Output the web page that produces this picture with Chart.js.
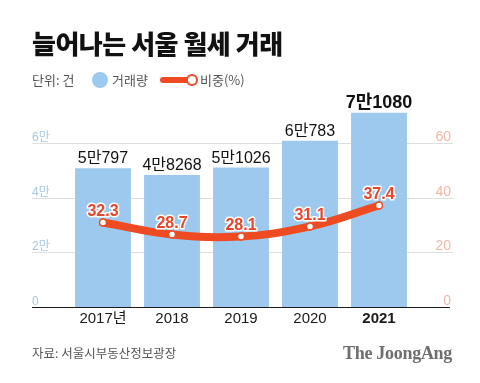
<!DOCTYPE html>
<html><head><meta charset="utf-8">
<script src="https://cdn.jsdelivr.net/npm/chart.js@4"></script>
<style>
html,body{margin:0;padding:0;background:#fff;}
#wrap{position:relative;width:480px;height:383px;overflow:hidden;font-family:"Noto Sans CJK KR","Noto Sans",sans-serif;}
canvas{position:absolute;left:0;top:0;}
.t{position:absolute;white-space:nowrap;}
#title{left:32px;top:28px;font-size:26px;line-height:30px;font-weight:900;color:#111;letter-spacing:-0.5px;}
.lg{top:72px;font-size:13px;line-height:16px;color:#555;}
#dot{position:absolute;left:92px;top:72px;width:16px;height:16px;border-radius:50%;background:#9DC9EE;}
#lline{position:absolute;left:160px;top:77px;width:30px;height:6px;border-radius:3px;background:#EE4B22;}
#lcirc{position:absolute;left:186px;top:74px;width:8px;height:8px;border-radius:50%;background:#fff;border:2px solid #EE4B22;}
#src{left:32px;top:344px;font-size:12.5px;line-height:18px;color:#555;}
#logo{right:28px;top:342px;font-family:"Liberation Serif","DejaVu Serif",serif;font-weight:bold;font-size:18px;line-height:22px;color:#6e6e6e;letter-spacing:-0.3px;}
</style></head><body>
<div id="wrap">
<canvas id="c" width="480" height="383"></canvas>
<div class="t" id="title">늘어나는 서울 월세 거래</div>
<div class="t lg" style="left:32px">단위: 건</div>
<div id="dot"></div>
<div class="t lg" style="left:112px">거래량</div>
<div id="lline"></div>
<div id="lcirc"></div>
<div class="t lg" style="left:200px">비중(%)</div>
<div class="t" id="src">자료: 서울시부동산정보광장</div>
<div class="t" id="logo">The JoongAng</div>
</div>
<script>
const categories = ['2017년', '2018', '2019', '2020', '2021'];
const transactions = [50797, 48268, 51026, 60783, 71080];
const sharePct = [32.3, 28.7, 28.1, 31.1, 37.4];
const leftTicks = [0, 20000, 40000, 60000];
const leftTickLabels = ['0', '2만', '4만', '6만'];
const rightTicks = [0, 20, 40, 60];
const rightTickLabels = ['0', '20', '40', '60'];

const RED = '#EE4B22';
const BLUE = '#9DC9EE';
const NUMFONT = '"Liberation Sans","Noto Sans CJK KR",sans-serif';

function fmtMan(v){
  const man = Math.floor(v/10000), rest = v % 10000;
  return man + '만' + rest;
}

const GL = 32, GR = 453;

const custom = {
  id: 'custom',
  beforeDatasetsDraw(chart){
    const ctx = chart.ctx, y = chart.scales.y, yr = chart.scales.yR;
    ctx.save();
    leftTicks.forEach((v,i)=>{
      const py = Math.round(y.getPixelForValue(v)) + 0.5;
      if (v !== 0){
        ctx.strokeStyle = '#dedede'; ctx.lineWidth = 1;
        ctx.beginPath(); ctx.moveTo(GL, py); ctx.lineTo(GR, py); ctx.stroke();
      }
      ctx.fillStyle = '#A3C8E4';
      ctx.font = '12px ' + NUMFONT;
      ctx.textAlign = 'left'; ctx.textBaseline = 'alphabetic';
      ctx.fillText(leftTickLabels[i], GL, py - 3);
    });
    rightTicks.forEach((v,i)=>{
      const py = Math.round(yr.getPixelForValue(v)) + 0.5;
      ctx.fillStyle = '#F3B6A6';
      ctx.font = '14px ' + NUMFONT;
      ctx.textAlign = 'right'; ctx.textBaseline = 'alphabetic';
      ctx.fillText(rightTickLabels[i], 451, py - 3);
    });
    ctx.restore();
  },
  afterDatasetsDraw(chart){
    const ctx = chart.ctx, y = chart.scales.y;
    ctx.save();
    const by = Math.round(y.getPixelForValue(0)) + 0.5;
    ctx.strokeStyle = '#1a1a1a'; ctx.lineWidth = 1.2;
    ctx.beginPath(); ctx.moveTo(GL, by); ctx.lineTo(450, by); ctx.stroke();
    // bar labels
    const barMeta = chart.getDatasetMeta(1);
    barMeta.data.forEach((el,i)=>{
      const last = i === transactions.length - 1;
      ctx.font = (last ? 'bold 18px ' : '16px ') + NUMFONT;
      ctx.fillStyle = '#111';
      ctx.textAlign = 'center'; ctx.textBaseline = 'alphabetic';
      ctx.fillText(fmtMan(transactions[i]), el.x, el.y - 5);
    });
    // line labels
    const lineMeta = chart.getDatasetMeta(0);
    lineMeta.data.forEach((el,i)=>{
      ctx.font = 'bold 16px ' + NUMFONT;
      ctx.textAlign = 'center'; ctx.textBaseline = 'alphabetic';
      ctx.lineJoin = 'round';
      ctx.strokeStyle = '#fff'; ctx.lineWidth = 3;
      const t = sharePct[i].toFixed(1);
      ctx.strokeText(t, el.x, el.y - 6);
      ctx.fillStyle = '#E8452A';
      ctx.fillText(t, el.x, el.y - 6);
    });
    ctx.restore();
  }
};

new Chart(document.getElementById('c'), {
  type: 'bar',
  data: {
    labels: categories,
    datasets: [
      {
        type: 'line', label: '비중(%)', data: sharePct, yAxisID: 'yL', order: 0,
        borderColor: RED, borderWidth: 8, tension: 0.4,
        pointRadius: 3.5, pointBackgroundColor: '#fff', pointBorderColor: RED, pointBorderWidth: 1.5,
        borderCapStyle: 'round', borderJoinStyle: 'round'
      },
      {
        type: 'bar', label: '거래량', data: transactions, yAxisID: 'y', order: 1,
        backgroundColor: BLUE, categoryPercentage: 1, barPercentage: 0.81
      }
    ]
  },
  options: {
    responsive: false, animation: false, events: [],
    layout: { padding: { left: 68.5, right: 66.5, top: 102, bottom: 52 } },
    plugins: { legend: { display: false }, tooltip: { enabled: false } },
    scales: {
      x: {
        grid: { display: false, drawTicks: false }, border: { display: false },
        afterFit: (s) => { s.height = 24; },
        ticks: {
          padding: 3, color: '#1a1a1a',
          font: (c) => ({ family: NUMFONT, size: 15, weight: c.index === categories.length - 1 ? 'bold' : 'normal' })
        }
      },
      y: { display: false, min: 0, max: 75000 },
      yR: { display: false, min: 0, max: 75, position: 'right' },
      yL: { display: false, min: 6.9, max: 68.5, position: 'right' }
    }
  },
  plugins: [custom]
});
</script>
</body></html>
